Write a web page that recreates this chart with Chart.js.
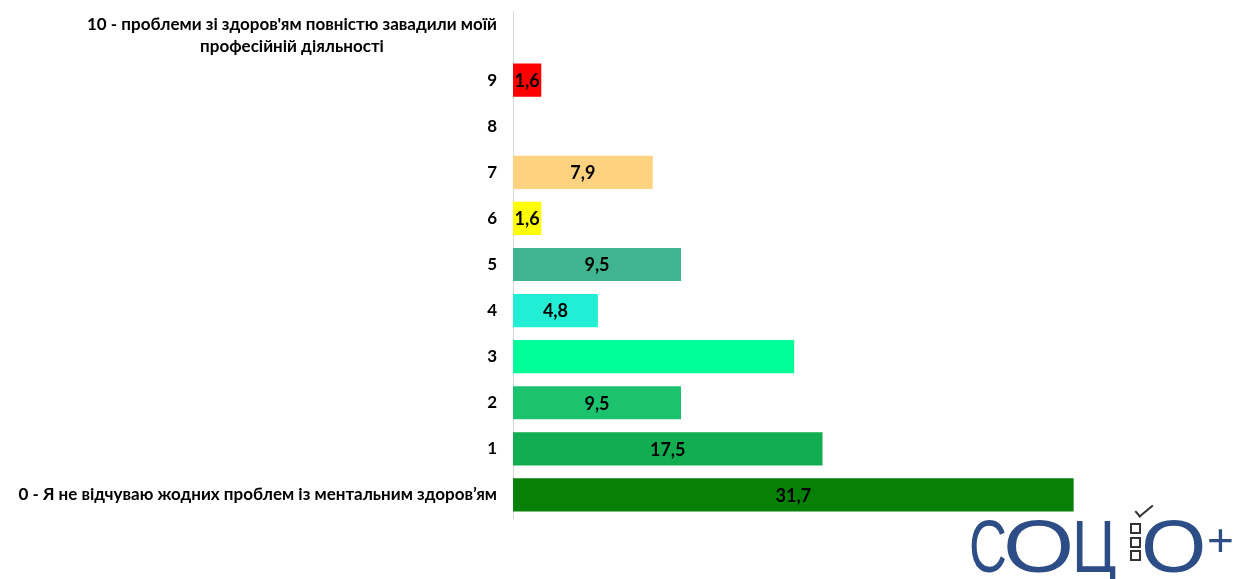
<!DOCTYPE html>
<html>
<head>
<meta charset="utf-8">
<script src="https://cdn.jsdelivr.net/npm/chart.js@4.4.0/dist/chart.umd.min.js"></script>
<style>
  html, body { margin: 0; padding: 0; background: #fff; }
  #wrap { position: relative; width: 1245px; height: 579px; overflow: hidden; }
  .lg { position: absolute; top: 503px; color: #2c4d85; line-height: 75px;
        font: 400 75px "Liberation Sans", Arial, sans-serif; transform-origin: left top; }
  .box { position: absolute; left: 1130px; width: 7px; height: 7px; border: 2px solid #333; }
  .chk { position: absolute; left: 1135px; top: 505px; width: 16px; height: 6px;
         border-left: 2px solid #333; border-bottom: 2px solid #333; transform: rotate(-40deg); }
</style>
</head>
<body>
<div id="wrap">
  <canvas id="c" width="1245" height="579"></canvas>
  <span class="lg" style="left:969px; transform:scaleX(0.7)">С</span>
  <span class="lg" style="left:1003px; transform:scaleX(1.22)">О</span>
  <span class="lg" style="left:1072px; transform:scaleX(0.8)">Ц</span>
  <div class="chk"></div>
  <div class="box" style="top:523px"></div>
  <div class="box" style="top:537px"></div>
  <div class="box" style="top:550px"></div>
  <span class="lg" style="left:1141px; transform:scaleX(1.12)">О</span>
  <span class="lg" style="left:1207px; top:517px; font-size:46px; line-height:46px;">+</span>
</div>
<script>
/* DATA */
const categories = [
  ["10 - проблеми зі здоров'ям повністю завадили моїй", "професійній діяльності"],
  "9", "8", "7", "6", "5", "4", "3", "2", "1",
  "0 - Я не відчуваю жодних проблем із ментальним здоров’ям"
];
const values = [0, 1.6, 0, 7.9, 1.6, 9.5, 4.8, 15.9, 9.5, 17.5, 31.7];
const valueLabels = ["", "1,6", "", "7,9", "1,6", "9,5", "4,8", "", "9,5", "17,5", "31,7"];
const barColors = ["#c00000", "#ff0000", "#ff9900", "#ffd280", "#ffff00", "#40b48e",
                   "#22eed6", "#00ff99", "#1bc36e", "#12ad50", "#068006"];

const FONT = "Lato, 'Liberation Sans', sans-serif";

/* value labels inside bars */
const barLabels = {
  id: "barLabels",
  afterDatasetsDraw(chart) {
    const ctx = chart.ctx;
    const meta = chart.getDatasetMeta(0);
    ctx.save();
    ctx.font = "bold 18px " + FONT;
    ctx.fillStyle = "#000";
    ctx.textAlign = "center";
    ctx.textBaseline = "middle";
    meta.data.forEach((bar, i) => {
      if (!valueLabels[i]) return;
      ctx.fillText(valueLabels[i], (bar.base + bar.x) / 2, bar.y + 1);
    });
    ctx.restore();
  }
};

/* the two-line top label, lines centred on each other */
const topLabel = {
  id: "topLabel",
  afterDraw(chart) {
    const ctx = chart.ctx;
    const y = chart.scales.y;
    const lines = categories[0];
    ctx.save();
    ctx.font = "bold 17px " + FONT;
    ctx.fillStyle = "#000";
    ctx.textAlign = "center";
    ctx.textBaseline = "middle";
    const w = Math.max(...lines.map(l => ctx.measureText(l).width));
    const right = y.right - 16;
    const py = y.getPixelForTick(0);
    lines.forEach((l, k) => {
      ctx.fillText(l, right - w / 2, py + (k - 0.5) * 22 + 1);
    });
    ctx.restore();
  }
};

new Chart(document.getElementById("c"), {
  type: "bar",
  data: {
    labels: categories,
    datasets: [{
      data: values,
      backgroundColor: barColors,
      barPercentage: 0.72,
      categoryPercentage: 1
    }]
  },
  options: {
    indexAxis: "y",
    responsive: false,
    animation: false,
    layout: { padding: { top: 11, bottom: 61, right: 113, left: 0 } },
    plugins: { legend: { display: false }, tooltip: { enabled: false } },
    scales: {
      x: { display: false, min: 0, max: 35 },
      y: {
        afterFit: s => { s.width = 513; s.paddingTop = 0; s.paddingBottom = 0; },
        border: { color: "#d9d9d9", width: 1 },
        grid: { display: false, drawTicks: false },
        ticks: {
          padding: 16,
          callback: function (v, i) { return i === 0 ? "" : this.getLabelForValue(v); },
          color: "#000",
          font: { family: FONT, size: 17, weight: "bold" }
        }
      }
    }
  },
  plugins: [barLabels, topLabel]
});
</script>
</body>
</html>
